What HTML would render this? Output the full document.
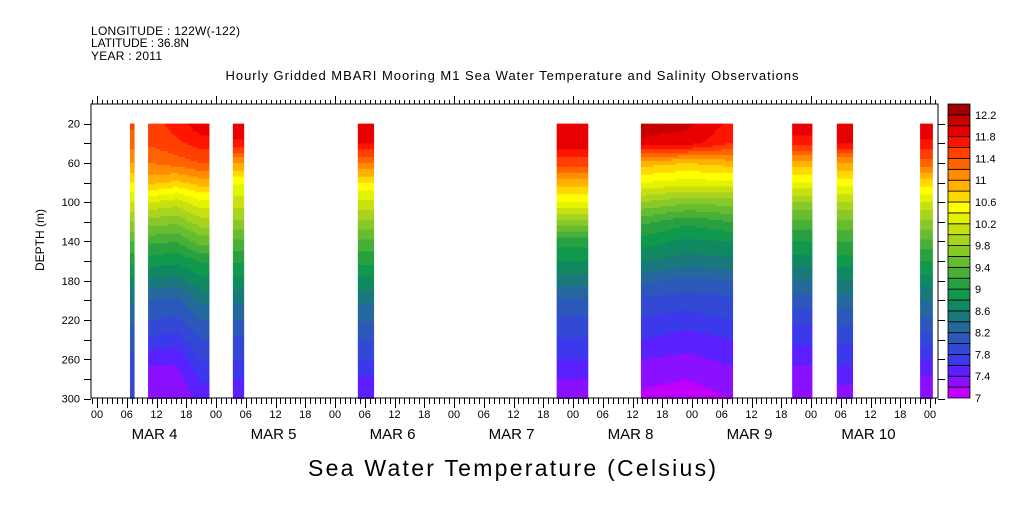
<!DOCTYPE html>
<html><head><meta charset="utf-8"><style>
body{margin:0;background:#fff;}
svg text{font-family:"Liberation Sans",sans-serif;fill:#000;}
</style></head><body>
<svg id="chart" width="1009" height="504" viewBox="0 0 1009 504" xmlns="http://www.w3.org/2000/svg">
<g font-size="12">
<text x="91" y="35" textLength="149">LONGITUDE : 122W(-122)</text>
<text x="91" y="47" textLength="98">LATITUDE : 36.8N</text>
<text x="91" y="60" textLength="71">YEAR : 2011</text>
</g>
<text x="512" y="80" font-size="13" text-anchor="middle" textLength="573">Hourly Gridded MBARI Mooring M1 Sea Water Temperature and Salinity Observations</text>
<g id="plot"></g>
<g id="axes"></g>
<g id="legend"></g>
<text x="44" y="240" font-size="12" text-anchor="middle" transform="rotate(-90 44 240)">DEPTH (m)</text>
<text x="512" y="476" font-size="23" text-anchor="middle" textLength="408">Sea Water Temperature (Celsius)</text>
</svg>
<script>
// ---- data ----
const depths = [20,40,60,80,100,120,140,160,180,200,220,240,260,280,300];
const colStart = [6.65, 10.3, 27.4, 52.6, 92.7, 109.7, 140.2, 149.2, 166.0];
const colEnd   = [7.5, 22.6, 29.6, 55.8, 99.0, 128.2, 144.2, 152.4, 168.5];
const profTimes = [7, 11, 16, 21, 28, 54, 96, 110, 119, 128, 142, 151, 167];
const profiles = [
 [11.45,11.3,11.0,10.6,10.2,9.8,9.4,9.05,8.75,8.45,8.25,8.1,7.95,7.85,7.8],
 [11.5,11.45,11.2,10.85,10.2,9.7,9.25,8.9,8.55,8.2,8.0,7.78,7.45,7.3,7.2],
 [11.7,11.55,11.3,10.75,10.1,9.65,9.2,8.85,8.5,8.15,7.95,7.7,7.45,7.3,7.2],
 [11.95,11.7,11.4,10.9,10.35,9.9,9.5,9.02,8.75,8.45,8.2,8.0,7.82,7.62,7.5],
 [11.95,11.75,11.0,10.45,10.1,9.75,9.35,9.02,8.75,8.45,8.2,7.95,7.8,7.6,7.45],
 [11.95,11.8,11.2,10.6,10.15,9.75,9.35,9.05,8.75,8.45,8.22,8.0,7.8,7.55,7.4],
 [12.0,11.9,11.5,10.9,10.4,9.7,9.1,8.8,8.5,8.15,7.95,7.78,7.6,7.4,7.3],
 [12.1,11.95,10.9,10.4,9.8,9.25,8.9,8.6,8.25,7.95,7.78,7.6,7.4,7.25,7.15],
 [12.05,11.9,10.8,10.3,9.65,9.05,8.75,8.5,8.15,7.9,7.7,7.5,7.35,7.2,7.1],
 [11.75,11.6,10.9,10.35,9.7,9.2,8.8,8.55,8.2,7.95,7.8,7.6,7.45,7.3,7.2],
 [11.95,11.7,10.9,10.4,9.8,9.35,9.0,8.7,8.4,8.1,7.85,7.65,7.45,7.3,7.2],
 [11.95,11.8,11.0,10.5,10.0,9.55,9.2,8.9,8.6,8.3,8.05,7.85,7.65,7.45,7.3],
 [11.95,11.75,11.3,10.7,10.2,9.75,9.35,9.0,8.7,8.4,8.15,7.9,7.6,7.35,7.2]
];
const levelMin = 7.0, levelStep = 0.2;
const legendLabels = ["7","7.4","7.8","8.2","8.6","9","9.4","9.8","10.2","10.6","11","11.4","11.8","12.2"];
const colors = ["#c000ff","#8a10ff","#5a20ff","#3c38ec","#3448d6","#2c58bc","#24689e","#1a787c","#108860","#10984c","#28a040","#48b038","#68bc30","#88c828","#a8d420","#c8e010","#e4f400","#ffff00","#ffd800","#ffb000","#ff8c00","#ff6400","#ff4000","#ff1400","#e80000","#c80000","#a00000"];
const xTickLabels = ["00","06","12","18"];
const dayLabels = ["MAR   4","MAR   5","MAR   6","MAR   7","MAR   8","MAR   9","MAR  10"];
const yTickLabels = [20,60,100,140,180,220,260,300];
// ---- scales ----
const NS="http://www.w3.org/2000/svg";
const X0=91, X1=938, Y0=104, Y1=398;
function xs(h){return 97 + h*119/24;}
function ys(d){return Y0 + d*(Y1-Y0)/299.4 ;}
function el(tag,attrs,parent){const e=document.createElementNS(NS,tag);for(const k in attrs)e.setAttribute(k,attrs[k]);parent.appendChild(e);return e;}
function colorFor(t){let i=Math.floor((t-levelMin)/levelStep);i=Math.max(0,Math.min(colors.length-1,i));return colors[i];}
function profAt(pi,d){let k=0;while(k<depths.length-2&&d>depths[k+1])k++;const f=(d-depths[k])/(depths[k+1]-depths[k]);return profiles[pi][k]*(1-f)+profiles[pi][k+1]*f;}
function tempAt(c,h,d){
  const idx=[];profTimes.forEach((t,i)=>{if(t>=colStart[c]-1&&t<=colEnd[c]+1)idx.push(i);});
  if(idx.length===1)return profAt(idx[0],d);
  if(h<=profTimes[idx[0]])return profAt(idx[0],d);
  for(let j=0;j<idx.length-1;j++){const a=profTimes[idx[j]],b=profTimes[idx[j+1]];if(h<=b){const f=(h-a)/(b-a);return profAt(idx[j],d)*(1-f)+profAt(idx[j+1],d)*f;}}
  return profAt(idx[idx.length-1],d);
}
// ---- plot cells ----
const plot=document.getElementById('plot');
for(let c=0;c<colStart.length;c++){
  const step=0.5;
  for(let h=colStart[c];h<colEnd[c]-1e-6;h+=step){
    const h2=Math.min(h+step,colEnd[c]);
    const hm=(h+h2)/2;
    let runStart=20,runColor=null;
    for(let d=20;d<=300;d+=2){
      const col=d<300?colorFor(tempAt(c,hm,d+1)):null;
      if(col!==runColor){
        if(runColor){
          const r=el('rect',{x:xs(h),y:ys(runStart),width:xs(h2)-xs(h)+0.4,height:ys(d)-ys(runStart)+0.4,fill:runColor},plot);
          
          
        }
        runStart=d;runColor=col;
      }
    }
  }
}
// ---- axes ----
const ax=document.getElementById('axes');
el('rect',{x:X0,y:Y0,width:X1-X0,height:Y1-Y0,fill:'none',stroke:'#000','stroke-width':1},ax);
for(let h=-1;h<=169;h++){
  const x=Math.round(xs(h))+0.5; if(x<X0||x>X1)continue;
  const day=((h%24)+24)%24===0;
  el('line',{x1:x,x2:x,y1:Y0,y2:day?96:100,stroke:'#000'},ax);
  el('line',{x1:x,x2:x,y1:Y1,y2:(h%6===0)?408:404,stroke:'#000'},ax);
  if(h>=0&&h%6===0){
    const t=el('text',{x:xs(h),y:418,'font-size':11,'text-anchor':'middle'},ax);
    t.textContent=xTickLabels[(h/6)%4];
    
    
  }
}
dayLabels.forEach((s,i)=>{
  const t=el('text',{x:xs(i*24+12)-2,y:439,'font-size':15,'text-anchor':'middle','xml:space':'preserve'},ax);
  t.textContent=s;
  
  
});
for(let d=20;d<=300;d+=20){
  const y=Math.round(ys(d))+0.5;
  el('line',{x1:84,x2:X0,y1:y,y2:y,stroke:'#000'},ax);
  el('line',{x1:X1,x2:945,y1:y,y2:y,stroke:'#000'},ax);
}
yTickLabels.forEach(d=>{
  const t=el('text',{x:80,y:ys(d)+4,'font-size':11,'text-anchor':'end'},ax);
  t.textContent=d;
  
  
});
// ---- legend ----
const lg=document.getElementById('legend');
const LX=948,LW=22,bh=(Y1-Y0)/colors.length;
colors.forEach((c,i)=>{
  const r=el('rect',{x:LX,y:Y1-(i+1)*bh,width:LW,height:bh,fill:c,stroke:'#000','stroke-width':0.8},lg);
  
  
});
legendLabels.forEach((s,i)=>{
  const t=el('text',{x:975,y:Y1-i*2*bh+4,'font-size':11},lg);
  t.textContent=s;
  
  
});
</script>
</body></html>
